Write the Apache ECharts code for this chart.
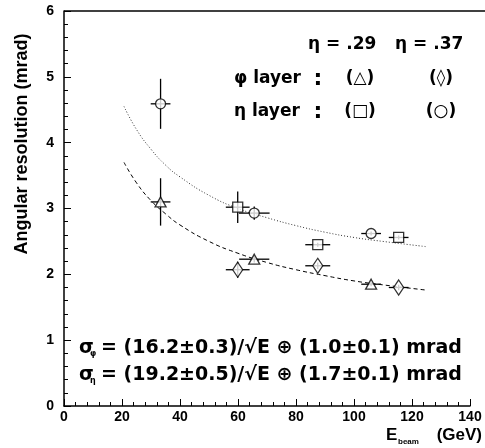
<!DOCTYPE html>
<html>
<head>
<meta charset="utf-8">
<script src="https://cdn.jsdelivr.net/npm/echarts@6/dist/echarts.min.js"></script>
<style>html,body{margin:0;padding:0;background:#fff}#c{width:485px;height:448px}</style>
</head>
<body>
<div id="c"></div>
<script>
// ---- data ----
const xTicks = [0, 20, 40, 60, 80, 100, 120, 140];
const yTicks = [0, 1, 2, 3, 4, 5, 6];

// phi layer, eta = .29 (triangles)
const triE = [33.3, 65.6, 105.9];
const triSigma = [3.10, 2.23, 1.85];
const triEErr = [3.4, 5.2, 3.4];
const triSigmaErr = [0.36, 0.05, 0.03];

// phi layer, eta = .37 (diamonds)
const diaE = [59.9, 87.5, 115.4];
const diaSigma = [2.07, 2.13, 1.80];
const diaEErr = [4.1, 4.3, 3.4];
const diaSigmaErr = [0.12, 0.05, 0.04];

// eta layer, eta = .29 (squares)
const sqE = [59.9, 87.5, 115.4];
const sqSigma = [3.02, 2.45, 2.56];
const sqEErr = [4.1, 4.3, 3.4];
const sqSigmaErr = [0.24, 0.03, 0.03];

// eta layer, eta = .37 (circles)
const cirE = [33.3, 65.6, 105.9];
const cirSigma = [4.59, 2.93, 2.62];
const cirEErr = [3.4, 5.3, 3.4];
const cirSigmaErr = [0.38, 0.10, 0.03];

// fit curves, points
const fitE = [20.7, 25, 30, 35, 40, 50, 60, 70, 80, 90, 100, 110, 125];
const fitEtaSigma = [4.55, 4.20, 3.90, 3.66, 3.48, 3.20, 3.00, 2.86, 2.74, 2.64, 2.56, 2.50, 2.42];
const fitPhiSigma = [3.70, 3.39, 3.12, 2.92, 2.75, 2.50, 2.32, 2.18, 2.07, 1.98, 1.90, 1.84, 1.76];

// ---- build ----
function pts(xs, ys) { return xs.map((x, i) => [x, ys[i]]); }
function errPts(xs, ys, xe, ye) { return xs.map((x, i) => [x, ys[i], xe[i], ye[i]]); }

const allErr = []
  .concat(errPts(triE, triSigma, triEErr, triSigmaErr))
  .concat(errPts(diaE, diaSigma, diaEErr, diaSigmaErr))
  .concat(errPts(sqE, sqSigma, sqEErr, sqSigmaErr))
  .concat(errPts(cirE, cirSigma, cirEErr, cirSigmaErr));

const chart = echarts.init(document.getElementById('c'), null, { renderer: 'canvas' });

const tickFont = { color: '#000', fontWeight: 'bold', fontSize: 14, fontFamily: '"Liberation Sans", Arial, sans-serif' };
const markStyle = { color: '#fff', borderColor: '#000', borderWidth: 1.3 };
const txtFont = '"DejaVu Sans", sans-serif';

chart.setOption({
  animation: false,
  backgroundColor: '#fff',
  grid: { left: 64, right: 15, top: 11, bottom: 42, containLabel: false },
  xAxis: {
    type: 'value', min: xTicks[0], max: xTicks[xTicks.length - 1], interval: 20,
    axisLine: { show: true, lineStyle: { color: '#000', width: 1.5 } },
    axisTick: { show: true, inside: true, length: 7, lineStyle: { color: '#000', width: 1 } },
    minorTick: { show: true, splitNumber: 5, length: 4, lineStyle: { color: '#000', width: 1 } },
    splitLine: { show: false },
    axisLabel: Object.assign({ margin: 4 }, tickFont)
  },
  yAxis: {
    type: 'value', min: yTicks[0], max: yTicks[yTicks.length - 1], interval: 1,
    axisLine: { show: true, lineStyle: { color: '#000', width: 1.5 } },
    axisTick: { show: true, inside: true, length: 7, lineStyle: { color: '#000', width: 1 } },
    minorTick: { show: true, splitNumber: 5, length: 4, lineStyle: { color: '#000', width: 1 } },
    splitLine: { show: false },
    axisLabel: Object.assign({ margin: 10 }, tickFont)
  },
  series: [
    {
      type: 'line', data: pts(fitE, fitEtaSigma), smooth: true, showSymbol: false, z: 1,
      lineStyle: { color: '#333', width: 1, type: [1, 2] }
    },
    {
      type: 'line', data: pts(fitE, fitPhiSigma), smooth: true, showSymbol: false, z: 1,
      lineStyle: { color: '#000', width: 1, type: [4, 3] }
    },
    {
      type: 'custom', data: allErr, z: 2,
      renderItem: function (params, api) {
        const x = api.value(0), y = api.value(1), xe = api.value(2), ye = api.value(3);
        const a = api.coord([x - xe, y]), b = api.coord([x + xe, y]);
        const c = api.coord([x, y - ye]), d = api.coord([x, y + ye]);
        const st = { stroke: '#000', lineWidth: 1.3 };
        return {
          type: 'group', children: [
            { type: 'line', shape: { x1: a[0], y1: a[1], x2: b[0], y2: b[1] }, style: st },
            { type: 'line', shape: { x1: c[0], y1: c[1], x2: d[0], y2: d[1] }, style: st }
          ]
        };
      }
    },
    { type: 'scatter', data: pts(triE, triSigma), symbol: 'triangle', symbolSize: [11, 10], itemStyle: markStyle, z: 3 },
    { type: 'scatter', data: pts(diaE, diaSigma), symbol: 'diamond', symbolSize: [10, 15], itemStyle: markStyle, z: 3 },
    { type: 'scatter', data: pts(sqE, sqSigma), symbol: 'rect', symbolSize: [10, 10], itemStyle: markStyle, z: 3 },
    { type: 'scatter', data: pts(cirE, cirSigma), symbol: 'circle', symbolSize: 10, itemStyle: markStyle, z: 3 }
  ],
  graphic: [
    { type: 'line', shape: { x1: 64, y1: 11, x2: 485, y2: 11 }, style: { stroke: '#000', lineWidth: 1.5 } },
    // axis titles
    { type: 'text', x: 22, y: 144, rotation: Math.PI / 2,
      style: { text: 'Angular resolution (mrad)', align: 'center', verticalAlign: 'middle', fill: '#000',
        font: 'bold 18px "Liberation Sans", Arial, sans-serif' } },
    { type: 'text', x: 386, y: 435, style: { text: 'E', align: 'left', verticalAlign: 'middle', fill: '#000', font: 'bold 17px "Liberation Sans", Arial, sans-serif' } },
    { type: 'text', x: 398, y: 442, style: { text: 'beam', align: 'left', verticalAlign: 'middle', fill: '#000', font: 'bold 8px "Liberation Sans", Arial, sans-serif' } },
    { type: 'text', x: 482, y: 435, style: { text: '(GeV)', align: 'right', verticalAlign: 'middle', fill: '#000', font: 'bold 17px "Liberation Sans", Arial, sans-serif' } },
    // legend-like annotations
    { type: 'text', x: 308, y: 45, style: { text: 'η = .29', align: 'left', verticalAlign: 'middle', fill: '#000', font: 'bold 17px ' + txtFont } },
    { type: 'text', x: 395, y: 45, style: { text: 'η = .37', align: 'left', verticalAlign: 'middle', fill: '#000', font: 'bold 17px ' + txtFont } },
    { type: 'text', x: 234, y: 79, style: { text: 'φ layer', align: 'left', verticalAlign: 'middle', fill: '#000', font: 'bold 17px ' + txtFont } },
    { type: 'text', x: 318, y: 79, style: { text: ':', align: 'center', verticalAlign: 'middle', fill: '#000', font: 'bold 22px ' + txtFont } },
    { type: 'text', x: 360, y: 79, style: { text: '(△)', align: 'center', verticalAlign: 'middle', fill: '#000', font: 'bold 17px ' + txtFont } },
    { type: 'text', x: 441, y: 79, style: { text: '(◊)', align: 'center', verticalAlign: 'middle', fill: '#000', font: 'bold 17px ' + txtFont } },
    { type: 'text', x: 234, y: 112, style: { text: 'η layer', align: 'left', verticalAlign: 'middle', fill: '#000', font: 'bold 17px ' + txtFont } },
    { type: 'text', x: 318, y: 112, style: { text: ':', align: 'center', verticalAlign: 'middle', fill: '#000', font: 'bold 22px ' + txtFont } },
    { type: 'text', x: 360, y: 112, style: { text: '(□)', align: 'center', verticalAlign: 'middle', fill: '#000', font: 'bold 17px ' + txtFont } },
    { type: 'text', x: 441, y: 112, style: { text: '(○)', align: 'center', verticalAlign: 'middle', fill: '#000', font: 'bold 17px ' + txtFont } },
    // formulas
    { type: 'text', x: 79, y: 348, style: { text: 'σ', align: 'left', verticalAlign: 'middle', fill: '#000', font: 'bold 19px ' + txtFont } },
    { type: 'text', x: 90, y: 354, style: { text: 'φ', align: 'left', verticalAlign: 'middle', fill: '#000', font: 'bold 8px ' + txtFont } },
    { type: 'text', x: 101, y: 348, style: { text: '= (16.2±0.3)/√E ⊕ (1.0±0.1) mrad', align: 'left', verticalAlign: 'middle', fill: '#000', font: 'bold 19px ' + txtFont } },
    { type: 'text', x: 79, y: 375, style: { text: 'σ', align: 'left', verticalAlign: 'middle', fill: '#000', font: 'bold 19px ' + txtFont } },
    { type: 'text', x: 90, y: 381, style: { text: 'η', align: 'left', verticalAlign: 'middle', fill: '#000', font: 'bold 8px ' + txtFont } },
    { type: 'text', x: 101, y: 375, style: { text: '= (19.2±0.5)/√E ⊕ (1.7±0.1) mrad', align: 'left', verticalAlign: 'middle', fill: '#000', font: 'bold 19px ' + txtFont } }
  ]
});
</script>
</body>
</html>
